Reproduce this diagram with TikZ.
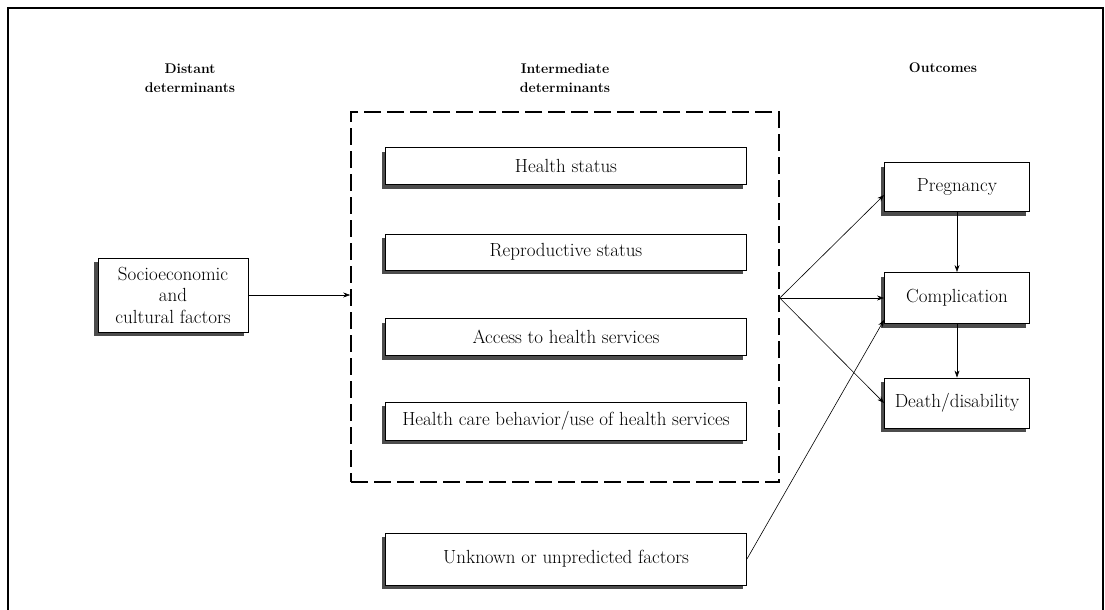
\documentclass[tikz,border=0pt]{standalone}
\usepackage{fontspec}
\usetikzlibrary{shadows,arrows.meta}
\begin{document}
\begin{tikzpicture}[x=1pt,y=-1pt,
  factor/.style={draw, line width=0.9pt, fill=white, inner sep=0pt, align=center,
    font=\fontsize{19}{21.5}\selectfont,
    drop shadow={shadow xshift=-4pt, shadow yshift=-4pt, fill=black!70, opacity=1}},
  heading/.style={align=center, font=\bfseries\fontsize{14}{19}\selectfont},
  link/.style={-{Stealth[length=7pt,width=5pt]}, line width=0.6pt},
  group/.style={draw, line width=1.6pt, dash pattern=on 17pt off 6pt, inner sep=0pt}
]
\useasboundingbox (0,0) rectangle (1105,610);

% page frame
\draw[line width=1.6pt] (8,610) -- (8,8) -- (1103,8) -- (1103,610);

% column headings
\node[heading] (hdist) at (190,78) {Distant\\determinants};
\node[heading] (hint)  at (565,78) {Intermediate\\determinants};
\node[heading] (hout)  at (943,68) {Outcomes};

% intermediate determinants
\node[group, minimum width=428pt, minimum height=370pt] (inter) at (565,297) {};
\node[factor, minimum width=361pt, minimum height=37pt] (health) at (566,166) {Health status};
\node[factor, minimum width=361pt, minimum height=36pt] (repro)  at (566,252) {Reproductive status};
\node[factor, minimum width=361pt, minimum height=37pt] (access) at (566,337) {Access to health services};
\node[factor, minimum width=361pt, minimum height=38pt] (behav)  at (566,421) {Health care behavior/use of health services};
\node[factor, minimum width=361pt, minimum height=52pt] (unknown) at (566,559) {Unknown or unpredicted factors};

% distant determinants
\node[factor, minimum width=150pt, minimum height=74pt] (socio) at (173,295) {Socioeconomic\\and\\cultural factors};

% outcomes
\node[factor, minimum width=145pt, minimum height=49pt] (preg)  at (957,187) {Pregnancy};
\node[factor, minimum width=145pt, minimum height=51pt] (comp)  at (957,298) {Complication};
\node[factor, minimum width=145pt, minimum height=50pt] (death) at (957,403) {Death/disability};

% connectors
\coordinate (hub) at (inter.east |- comp.west);
\draw[link] (socio.east) -- (socio.east -| inter.west);
\draw[link] (hub) -- ([yshift=-8pt]preg.west);
\draw[link] (hub) -- (comp.west);
\draw[link] (hub) -- (death.west);
\draw[link] (unknown.east) -- ([yshift=4pt]comp.south west);
\draw[link] (preg.south) -- (comp.north);
\draw[link] (comp.south) -- (death.north);
\end{tikzpicture}
\end{document}
